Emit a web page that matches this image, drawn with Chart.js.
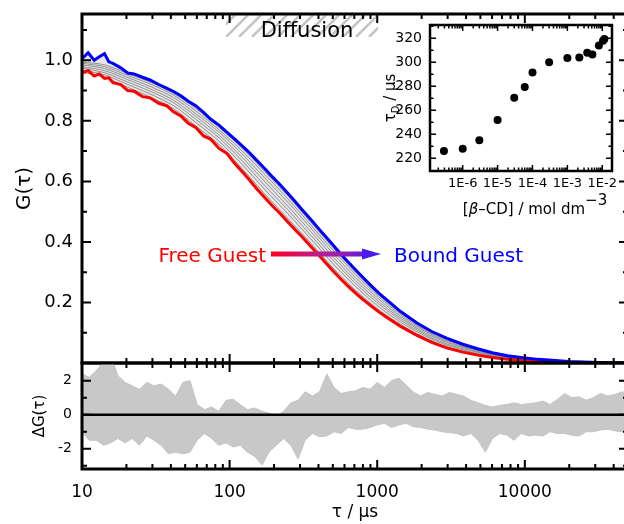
<!DOCTYPE html>
<html>
<head>
<meta charset="UTF-8">
<title>FCS curves</title>
<script src="https://cdn.jsdelivr.net/npm/chart.js"></script>
<style>
  html, body { margin: 0; padding: 0; background: #fff; overflow: hidden; width: 624px; height: 524px; }
  canvas { position: absolute; }
  #main { left: 0; top: 0; }
  #res { left: 0; top: 360px; }
  #inset { left: 370px; top: 0; }
</style>
</head>
<body>
<canvas id="main" width="640" height="366"></canvas>
<canvas id="res" width="640" height="164"></canvas>
<canvas id="inset" width="254" height="221"></canvas>
<script>
// lag times (us) for the free / bound correlation curves
const tau = [10, 11, 12.1, 13.1, 14.2, 15.2, 16.2, 18.3, 20.4, 22.5,
  25.7, 28.9, 33.1, 37.4, 41.7, 47, 52.5, 58.9, 66.6, 74.2,
  85.1, 96.1, 107, 120, 135, 151, 174, 196, 219, 247,
  275, 309, 355, 401, 447, 504, 562, 631, 713, 795,
  912, 1030, 1150, 1440, 1860, 2340, 2950, 3800, 4780, 6020,
  7640, 9760, 12300, 16100, 19900, 25100, 31600, 40700, 51200];

const gFree = [0.958, 0.966, 0.948, 0.955, 0.94, 0.942, 0.926, 0.92, 0.9, 0.898,
  0.88, 0.876, 0.858, 0.85, 0.83, 0.815, 0.792, 0.778, 0.75, 0.74,
  0.708, 0.692, 0.662, 0.635, 0.607, 0.578, 0.545, 0.518, 0.495, 0.467,
  0.443, 0.417, 0.385, 0.357, 0.331, 0.303, 0.279, 0.255, 0.231, 0.211,
  0.188, 0.168, 0.152, 0.121, 0.091, 0.068, 0.05, 0.036, 0.026, 0.018,
  0.012, 0.008, 0.005, 0.003, 0.002, 0.001, 0.001, 0, 0];

const gBound = [1.005, 1.025, 1.0, 1.012, 1.022, 0.995, 0.99, 0.975, 0.958, 0.955,
  0.944, 0.935, 0.92, 0.908, 0.897, 0.882, 0.865, 0.85, 0.828, 0.806,
  0.785, 0.762, 0.742, 0.72, 0.697, 0.672, 0.641, 0.614, 0.59, 0.562,
  0.536, 0.507, 0.474, 0.444, 0.418, 0.389, 0.362, 0.335, 0.308, 0.284,
  0.255, 0.23, 0.21, 0.17, 0.132, 0.104, 0.082, 0.062, 0.047, 0.034,
  0.024, 0.017, 0.012, 0.008, 0.005, 0.003, 0.002, 0.001, 0];

// intermediate concentrations (grey curves)
const tauGrey = [10, 14.2, 20.4, 28.9, 41.7, 58.9, 85.1, 120, 174, 247, 355, 504,
  713, 1030, 1440, 2100, 2950, 4290, 6020, 8510, 12300, 25100, 51200];
const grey1 = [.961, .943, .911, .879, .840, .783, .721, .645, .557, .478, .396, .313, .240, .175, .127, .084, .054, .034, .020, .012, .006, .001, 0];
const grey2 = [.968, .952, .920, .889, .850, .795, .732, .659, .572, .494, .410, .327, .253, .185, .135, .090, .059, .037, .022, .014, .007, .002, 0];
const grey3 = [.974, .959, .928, .898, .860, .805, .743, .671, .585, .507, .422, .339, .263, .194, .142, .095, .063, .041, .025, .015, .008, .002, 0];
const grey4 = [.979, .966, .936, .906, .868, .815, .752, .682, .598, .519, .434, .350, .273, .202, .148, .100, .068, .044, .027, .016, .009, .002, 0];
const grey5 = [.985, .973, .943, .914, .877, .824, .762, .693, .610, .532, .446, .361, .283, .210, .154, .105, .072, .047, .029, .017, .010, .002, 0];
const grey6 = [.990, .979, .950, .922, .885, .833, .770, .703, .622, .543, .456, .372, .293, .218, .160, .109, .076, .049, .031, .018, .011, .003, 0];
const grey7 = [.994, .985, .956, .928, .891, .841, .778, .712, .631, .553, .465, .380, .300, .224, .165, .113, .079, .052, .032, .019, .011, .003, 0];

// residual band (upper / lower envelope of all fits)
const resTau = [10, 11.2, 12.5, 14.0, 15.7, 17.5, 19.6, 21.9, 24.5, 27.5,
  30.7, 34.4, 38.5, 43.1, 48.2, 53.9, 60.3, 67.5, 75.6, 84.5,
  94.6, 106, 118, 132, 148, 166, 185, 207, 232, 260,
  291, 325, 364, 407, 456, 510, 570, 638, 714, 799,
  894, 1000, 1120, 1250, 1400, 1570, 1750, 1960, 2200, 2460,
  2750, 3080, 3440, 3850, 4310, 4820, 5400, 6040, 6760, 7560,
  8460, 9460, 10600, 11800, 13300, 14800, 16600, 18600, 20800, 23300,
  26000, 29100, 32600, 36500, 40800, 45700, 51100];
const resUpper = [2.4, 2.2, 2.6, 3.1, 3.5, 2.3, 1.9, 1.7, 1.5, 1.9,
  1.7, 1.8, 1.5, 1.1, 1.9, 2.0, 0.6, 0.3, 0.45, 0.2,
  0.85, 0.9, 0.6, 0.3, 0.4, 0.2, 0.1, -0.1, 0.2, 0.7,
  0.85, 1.35, 1.1, 1.35, 2.4, 1.6, 1.25, 1.35, 1.4, 1.6,
  1.5, 1.9, 1.6, 2.0, 2.15, 1.75, 1.35, 1.1, 1.3, 1.2,
  1.1, 1.3, 1.2, 1.1, 0.85, 0.7, 0.55, 0.45, 0.55, 0.6,
  0.7, 0.6, 0.65, 0.7, 0.8, 0.6, 0.9, 1.25, 1.0, 1.05,
  0.85, 1.0, 1.25, 1.1, 1.2, 1.35, 1.2];
const resLower = [-1.0, -1.5, -1.5, -1.8, -1.65, -1.4, -1.65, -1.4, -1.8, -1.25,
  -1.5, -1.8, -2.3, -2.2, -2.3, -2.2, -1.5, -1.1, -1.4, -1.8,
  -1.65, -1.9, -1.8, -2.2, -2.45, -2.95, -2.2, -1.8, -1.4, -1.8,
  -2.6, -1.5, -1.1, -1.3, -1.25, -1.0, -1.1, -0.75, -0.85, -0.85,
  -0.75, -0.6, -0.5, -0.75, -0.6, -0.5, -0.7, -0.75, -0.85, -0.9,
  -1.0, -1.05, -1.1, -1.25, -1.1, -1.5, -2.2, -1.4, -1.1, -1.2,
  -1.5, -1.1, -1.25, -1.2, -1.25, -1.0, -1.1, -1.1, -1.2, -1.25,
  -1.0, -1.0, -0.9, -0.85, -0.95, -1.0, -1.0];

// inset: diffusion time vs beta-CD concentration
const cdConc = [2.9e-7, 1.0e-6, 3.0e-6, 1.0e-5, 3.0e-5, 6.0e-5, 1.0e-4, 3.0e-4,
  1.0e-3, 2.2e-3, 3.7e-3, 5.2e-3, 8.0e-3, 1.05e-2, 1.15e-2];
const tauD = [226, 228, 235, 252, 270.5, 279.5, 291.5, 300, 303.5, 304, 308, 306.5, 314, 318, 319.5];

// ticks
const tauTicks = [10, 100, 1000, 10000];
const gTicks = [0.2, 0.4, 0.6, 0.8, 1.0];
const gMinor = [0.1, 0.3, 0.5, 0.7, 0.9, 1.1];
const resTicks = [-2, 0, 2];
const resMinor = [-3, -1, 1, 3];
const concTicks = [1e-6, 1e-5, 1e-4, 1e-3, 1e-2];
const concLabels = ['1E-6', '1E-5', '1E-4', '1E-3', '1E-2'];
const tauDTicks = [220, 240, 260, 280, 300, 320];
const tauDMinor = [210, 230, 250, 270, 290, 310, 330];

const FONT = 'DejaVu Sans';

function logMinors(from, to) {
  const out = [];
  for (let d = from; d < to; d *= 10) {
    for (let m = 2; m <= 9; m++) out.push(m * d);
  }
  return out;
}

function pts(xs, ys) {
  return xs.map((x, i) => ({ x: x, y: ys[i] }));
}

// keep the plot box exactly where the layout padding says
function fixWidth(w) {
  return s => { s.width = w; s.paddingTop = 0; s.paddingBottom = 0; s.paddingLeft = 0; s.paddingRight = 0; };
}
function fixHeight(h) {
  return s => { s.height = h; s.paddingTop = 0; s.paddingBottom = 0; s.paddingLeft = 0; s.paddingRight = 0; };
}

// inward tick marks + frame, like Origin
const frameTicks = {
  id: 'frameTicks',
  afterDraw(chart, args, o) {
    const { ctx, chartArea: a } = chart;
    const xs = chart.scales.x, ys = chart.scales.y;
    ctx.save();
    ctx.strokeStyle = '#000';
    ctx.lineWidth = o.tickWidth;
    ctx.beginPath();
    const xt = (list, len) => list.forEach(v => {
      const p = xs.getPixelForValue(v);
      if (p < a.left + 1 || p > a.right - 1) return;
      if (o.top) { ctx.moveTo(p, a.top); ctx.lineTo(p, a.top + len); }
      if (o.bottom) { ctx.moveTo(p, a.bottom); ctx.lineTo(p, a.bottom - len); }
    });
    const yt = (list, len) => list.forEach(v => {
      const p = ys.getPixelForValue(v);
      if (p < a.top + 1 || p > a.bottom - 1) return;
      ctx.moveTo(a.left, p); ctx.lineTo(a.left + len, p);
      ctx.moveTo(a.right, p); ctx.lineTo(a.right - len, p);
    });
    xt(o.xMajor, o.majorLen); xt(o.xMinor, o.minorLen);
    yt(o.yMajor, o.majorLen); yt(o.yMinor, o.minorLen);
    ctx.stroke();
    ctx.lineWidth = o.frameWidth;
    ctx.strokeRect(a.left, a.top, a.right - a.left, a.bottom - a.top);
    ctx.restore();
  }
};

// annotations of the main panel
const mainDecor = {
  id: 'mainDecor',
  beforeDatasetsDraw(chart) {
    const ctx = chart.ctx;
    ctx.save();
    ctx.beginPath();
    ctx.rect(226, 15, 152, 22);
    ctx.clip();
    ctx.strokeStyle = '#c4c4c4';
    ctx.lineWidth = 2.5;
    ctx.beginPath();
    for (let x = 200; x < 390; x += 13) {
      ctx.moveTo(x, 37); ctx.lineTo(x + 22, 15);
    }
    ctx.stroke();
    ctx.restore();
  },
  afterDatasetsDraw(chart) {
    const ctx = chart.ctx;
    ctx.save();
    ctx.fillStyle = '#000';
    ctx.font = '21px "' + FONT + '"';
    ctx.textAlign = 'center';
    ctx.textBaseline = 'alphabetic';
    ctx.fillText('Diffusion', 307, 37);

    const grad = ctx.createLinearGradient(271, 0, 380, 0);
    grad.addColorStop(0, '#ff0020');
    grad.addColorStop(0.5, '#b0209a');
    grad.addColorStop(1, '#4a1af0');
    ctx.strokeStyle = grad;
    ctx.lineWidth = 5;
    ctx.beginPath();
    ctx.moveTo(271, 254); ctx.lineTo(364, 254);
    ctx.stroke();
    ctx.fillStyle = '#4a1af0';
    ctx.beginPath();
    ctx.moveTo(362, 248.5); ctx.lineTo(381, 254); ctx.lineTo(362, 259.5);
    ctx.closePath();
    ctx.fill();

    ctx.font = '20px "' + FONT + '"';
    ctx.textAlign = 'right';
    ctx.fillStyle = '#ff0000';
    ctx.fillText('Free Guest', 266, 262);
    ctx.textAlign = 'left';
    ctx.fillStyle = '#0000ff';
    ctx.fillText('Bound Guest', 394, 262);
    ctx.restore();
  }
};

const zeroLine = {
  id: 'zeroLine',
  afterDatasetsDraw(chart) {
    const { ctx, chartArea: a } = chart;
    const y = chart.scales.y.getPixelForValue(0);
    ctx.save();
    ctx.strokeStyle = '#000';
    ctx.lineWidth = 2.5;
    ctx.beginPath();
    ctx.moveTo(a.left, y); ctx.lineTo(a.right, y);
    ctx.stroke();
    ctx.restore();
  }
};

const insetTitles = {
  id: 'insetTitles',
  afterDraw(chart) {
    const ctx = chart.ctx;
    ctx.save();
    ctx.fillStyle = '#000';
    ctx.textBaseline = 'alphabetic';
    // x title: [beta-CD] / mol dm^-3
    const f = '15px "' + FONT + '"';
    const fi = 'italic 15px "' + FONT + '"';
    const parts = [['[', f, 0], ['β', fi, 0], ['–CD] / mol dm', f, 0], ['−3', f, -9]];
    let w = 0;
    parts.forEach(p => { ctx.font = p[1]; w += ctx.measureText(p[0]).width; });
    let x = 165 - w / 2;
    parts.forEach(p => {
      ctx.font = p[1];
      ctx.textAlign = 'left';
      ctx.fillText(p[0], x, 214 + p[2]);
      x += ctx.measureText(p[0]).width;
    });
    // y title: tau_D / us, rotated
    ctx.translate(20, 98);
    ctx.rotate(-Math.PI / 2);
    const ys = [['τ', f, 0], ['D', '10px "' + FONT + '"', 4], [' / μs', f, 0]];
    w = 0;
    ys.forEach(p => { ctx.font = p[1]; w += ctx.measureText(p[0]).width; });
    x = -w / 2;
    ys.forEach(p => {
      ctx.font = p[1];
      ctx.fillText(p[0], x, 5 + p[2]);
      x += ctx.measureText(p[0]).width;
    });
    ctx.restore();
  }
};

const greyLines = [grey1, grey2, grey3, grey4, grey5, grey6, grey7].map(g => ({
  data: pts(tauGrey, g),
  borderColor: '#7a7a7a',
  borderWidth: 0.8,
  pointRadius: 0,
  tension: 0.3
}));

new Chart(document.getElementById('main'), {
  type: 'line',
  data: {
    datasets: [
      { data: pts(tau, gBound), borderColor: '#0000ff', borderWidth: 3, pointRadius: 0, tension: 0 },
      { data: pts(tau, gFree), borderColor: '#ff0000', borderWidth: 3, pointRadius: 0, tension: 0,
        fill: '-1', backgroundColor: 'rgba(140,140,140,0.22)' }
    ].concat(greyLines)
  },
  options: {
    responsive: false,
    animation: false,
    events: [],
    layout: { padding: { left: 0, top: 14, right: 12, bottom: 3 } },
    plugins: {
      legend: { display: false },
      tooltip: { enabled: false },
      filler: { drawTime: 'beforeDatasetsDraw' },
      frameTicks: {
        xMajor: tauTicks, xMinor: logMinors(10, 1e5), yMajor: gTicks, yMinor: gMinor,
        top: true, bottom: true, majorLen: 9, minorLen: 5, tickWidth: 2, frameWidth: 3
      }
    },
    scales: {
      x: { type: 'logarithmic', min: 10, max: 50000, display: false, afterFit: fixHeight(0) },
      y: {
        type: 'linear', min: 0, max: 1.153,
        afterFit: fixWidth(82),
        afterBuildTicks: s => { s.ticks = gTicks.map(v => ({ value: v })); },
        grid: { display: false, drawTicks: false },
        border: { display: false },
        ticks: { padding: 9, color: '#000', font: { family: FONT, size: 18 }, callback: v => v.toFixed(1) },
        title: { display: true, text: 'G(τ)', color: '#000', font: { family: FONT, size: 20 }, padding: { top: 13, bottom: 0 } }
      }
    }
  },
  plugins: [mainDecor, frameTicks]
});

new Chart(document.getElementById('res'), {
  type: 'line',
  data: {
    datasets: [
      { data: pts(resTau, resUpper), borderColor: '#c4c4c4', borderWidth: 1, pointRadius: 0, fill: false },
      { data: pts(resTau, resLower), borderColor: '#c4c4c4', borderWidth: 1, pointRadius: 0, fill: '-1', backgroundColor: '#c8c8c8' }
    ]
  },
  options: {
    responsive: false,
    animation: false,
    events: [],
    layout: { padding: { left: 0, top: 3, right: 12, bottom: 0 } },
    plugins: {
      legend: { display: false },
      tooltip: { enabled: false },
      frameTicks: {
        xMajor: tauTicks, xMinor: logMinors(10, 1e5), yMajor: resTicks, yMinor: resMinor,
        top: true, bottom: true, majorLen: 9, minorLen: 5, tickWidth: 2, frameWidth: 3
      }
    },
    scales: {
      x: {
        type: 'logarithmic', min: 10, max: 50000,
        afterFit: fixHeight(55),
        afterBuildTicks: s => { s.ticks = tauTicks.map(v => ({ value: v })); },
        grid: { display: false, drawTicks: false },
        border: { display: false },
        ticks: { padding: 13, color: '#000', maxRotation: 0, font: { family: FONT, size: 17 }, callback: v => String(v) },
        title: { display: true, text: 'τ / μs', color: '#000', font: { family: FONT, size: 17 }, padding: { top: 0, bottom: 1 } }
      },
      y: {
        type: 'linear', min: -3.19, max: 3.04,
        afterFit: fixWidth(82),
        afterBuildTicks: s => { s.ticks = resTicks.map(v => ({ value: v })); },
        grid: { display: false, drawTicks: false },
        border: { display: false },
        ticks: { padding: 10, color: '#000', font: { family: FONT, size: 14 }, callback: v => String(v) },
        title: { display: true, text: 'ΔG(τ)', color: '#000', font: { family: FONT, size: 15 }, padding: { top: 31, bottom: 0 } }
      }
    }
  },
  plugins: [zeroLine, frameTicks]
});

new Chart(document.getElementById('inset'), {
  type: 'scatter',
  data: {
    datasets: [{ data: pts(cdConc, tauD), backgroundColor: '#000', borderColor: '#000', pointRadius: 4, borderWidth: 0 }]
  },
  options: {
    responsive: false,
    animation: false,
    events: [],
    layout: { padding: { left: 0, top: 25, right: 12, bottom: 0 } },
    plugins: {
      legend: { display: false },
      tooltip: { enabled: false },
      frameTicks: {
        xMajor: concTicks, xMinor: logMinors(1e-7, 1e-1), yMajor: tauDTicks, yMinor: tauDMinor,
        top: true, bottom: true, majorLen: 6, minorLen: 3.5, tickWidth: 1.5, frameWidth: 2.5
      }
    },
    scales: {
      x: {
        type: 'logarithmic', min: 1.156e-7, max: 0.019,
        afterFit: fixHeight(50),
        afterBuildTicks: s => { s.ticks = concTicks.map(v => ({ value: v })); },
        grid: { display: false, drawTicks: false },
        border: { display: false },
        ticks: { padding: 5, color: '#000', maxRotation: 0, autoSkip: false, font: { family: FONT, size: 13 }, callback: (v, i) => concLabels[i] }
      },
      y: {
        type: 'linear', min: 209.4, max: 331.1,
        afterFit: fixWidth(60),
        afterBuildTicks: s => { s.ticks = tauDTicks.map(v => ({ value: v })); },
        grid: { display: false, drawTicks: false },
        border: { display: false },
        ticks: { padding: 8, color: '#000', font: { family: FONT, size: 14 }, callback: v => String(v) }
      }
    }
  },
  plugins: [frameTicks, insetTitles]
});
</script>
</body>
</html>
